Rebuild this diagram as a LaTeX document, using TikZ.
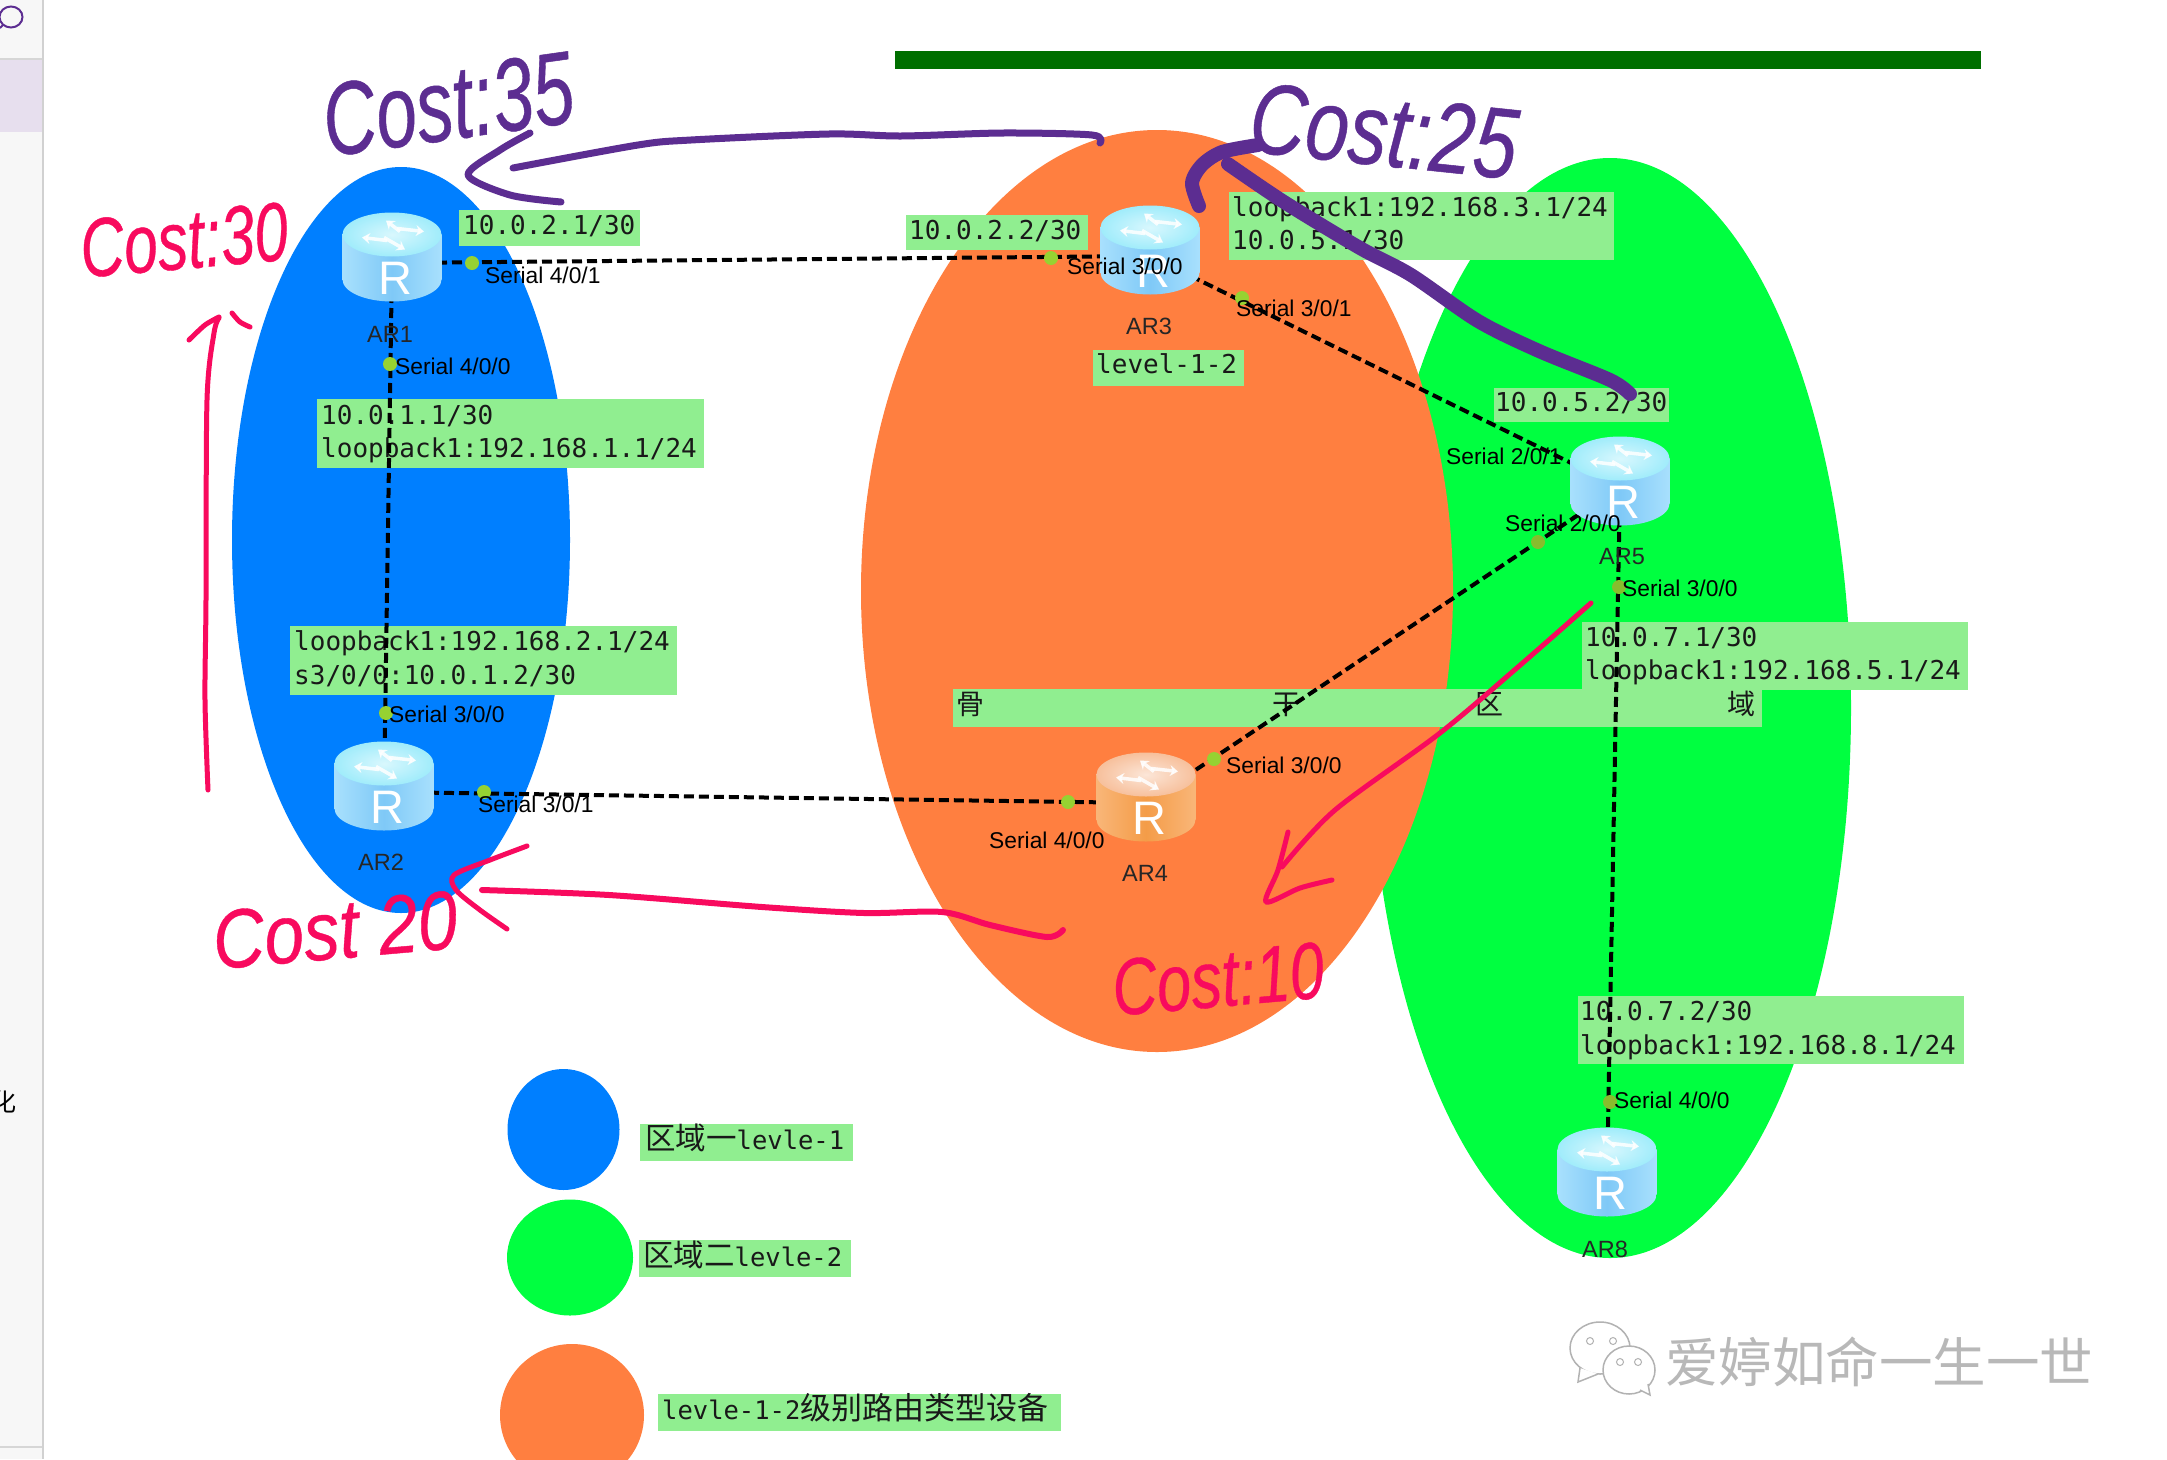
\documentclass[tikz,border=0pt]{standalone}
\usepackage{fontspec}
\usepackage{graphicx}
\usetikzlibrary{arrows.meta,shapes.geometric}
\newfontfamily\monof{DejaVu Sans Mono}
\newfontfamily\cjkf{Noto Sans CJK SC}
\newfontfamily\arialf{Liberation Sans}
\newfontfamily\handf[FakeBold=0.5]{Liberation Sans Italic}
\definecolor{bluearea}{HTML}{007FFF}
\definecolor{orangearea}{HTML}{FF7F40}
\definecolor{greenarea}{HTML}{00FF40}
\definecolor{lblgreen}{HTML}{90EE90}
\definecolor{penpurple}{HTML}{5C2D91}
\definecolor{penred}{HTML}{F80A5E}
\definecolor{dotgreen}{HTML}{96D232}
\definecolor{barsgreen}{HTML}{006F00}
\definecolor{rbedge}{HTML}{A8E0FD}
\definecolor{rbmid}{HTML}{7FC9F7}
\definecolor{rbtop}{HTML}{A0ECFB}
\definecolor{roedge}{HTML}{F9B678}
\definecolor{romid}{HTML}{F49C48}
\definecolor{rotop}{HTML}{F7C09C}
\tikzset{
  gbox/.style={fill=lblgreen,inner sep=0pt,outer sep=0pt},
  mono/.style={anchor=base west,inner sep=0pt,yshift=-1.5pt,font=\monof\fontsize{26}{26}\selectfont,text=black!90},
  mixed/.style={anchor=base west,inner sep=0pt,yshift=-1.5pt,font=\monof\fontsize{25.5}{26}\selectfont,text=black!90},
  port/.style={anchor=west,inner sep=0pt,yshift=-1pt,font=\arialf\fontsize{22.8}{23}\selectfont,text=black},
  rname/.style={anchor=center,inner sep=0pt,yshift=-1pt,font=\arialf\fontsize{23.5}{24}\selectfont,text=black!85},
  rcentre/.style={inner sep=0pt,minimum size=0pt,outer sep=0pt},
  pdot/.style={circle,fill=dotgreen,inner sep=0pt,minimum size=14pt},
  link/.style={draw=black,line width=4pt,dash pattern=on 10pt off 5pt},
  penP/.style={draw=penpurple,line cap=round,line join=round},
  penR/.style={draw=penred,line cap=round,line join=round},
  handP/.style={inner sep=0pt,text=penpurple},
  handR/.style={inner sep=0pt,text=penred},
  rtxt/.style={inner sep=0pt,text=white,font=\arialf\fontsize{47}{47}\selectfont},
  pics/rtr/.style n args={3}{code={
    \path[left color=#1,right color=#1,middle color=#2] (-49.5,-22.5) rectangle (49.5,22.5);
    \path[left color=#1,right color=#1,middle color=#2] (0,22.5) ellipse [x radius=49.5,y radius=22];
    \path[inner color=#3!40!white,outer color=#3] (0,-22.5) ellipse [x radius=49.5,y radius=22];
    \foreach \a/\b/\c/\d in {8/-25.5/-6/-36.5, 5/-28.5/32/-25.5, -8/-19.5/13/-7.5, -5/-16.5/-30/-19.5}{
      \draw[white,line width=3.5pt,opacity=.85,-{Stealth[length=8pt,width=11pt]}] (\a,\b) -- (\c,\d);
    }
    \node[rtxt] (-r) at (3,21) {R};
  }},
}
\begin{document}
\begin{tikzpicture}[x=1pt,y=-1pt]
\useasboundingbox (0,0) rectangle (2167,1459);
\fill[white] (0,0) rectangle (2167,1459);
% window side strip
\fill[black!3] (0,0) rectangle (42,1459);
\fill[black!18] (42,0) rectangle (44,1459);
\fill[black!16] (0,58) rectangle (42,60);
\fill[black!16] (0,1446) rectangle (42,1448);
\fill[white!85!penpurple] (0,60) rectangle (42,132);
\draw[penpurple,line width=2pt] (11,17) ellipse [x radius=11.5,y radius=10.5];
\draw[penpurple,line width=2pt] (3,25) -- (0,28);
\begin{scope}
\clip (0,1080) rectangle (42,1125);
\node[inner sep=0pt,font=\cjkf\fontsize{25}{25}\selectfont] (sidechar) at (4,1102) {化};
\end{scope}
% top bar
\fill[barsgreen] (895,51) rectangle (1981,69);
% areas
\fill[greenarea] (1610,708) ellipse [x radius=241,y radius=550];
\fill[orangearea] (1157,591) ellipse [x radius=296,y radius=461];
\fill[bluearea] (401,540) ellipse [x radius=169,y radius=373];
% legend
\fill[bluearea] (563.5,1129.5) ellipse [x radius=56,y radius=60.5];
\fill[greenarea] (570,1257.5) ellipse [x radius=63,y radius=58];
\fill[orangearea] (572,1415) ellipse [x radius=72,y radius=71];
% label boxes and texts
\node[gbox,minimum width=181pt,minimum height=36pt] (b1) at (549.5,228) {};
\node[mono] (t1) at (463,233) {10.0.2.1/30};
\node[gbox,minimum width=387pt,minimum height=69pt] (b2) at (510.5,433.5) {};
\node[mono] (t2a) at (321,423) {10.0.1.1/30};
\node[mono] (t2b) at (321,456) {loopback1:192.168.1.1/24};
\node[gbox,minimum width=182pt,minimum height=35pt] (b3) at (997,232.5) {};
\node[mono] (t3) at (909,238) {10.0.2.2/30};
\node[gbox,minimum width=385pt,minimum height=68.5pt] (b4) at (1421.5,225.75) {};
\node[mono] (t4a) at (1232,215) {loopback1:192.168.3.1/24};
\node[mono] (t4b) at (1232,248) {10.0.5.1/30};
\node[gbox,minimum width=151pt,minimum height=36pt] (b5) at (1168.5,368) {};
\node[mono] (t5) at (1096,372) {level-1-2};
\node[gbox,minimum width=175pt,minimum height=34pt] (b6) at (1581.5,405) {};
\node[mono] (t6) at (1495,410) {10.0.5.2/30};
\node[gbox,minimum width=387pt,minimum height=69pt] (b7) at (483.5,660.5) {};
\node[mono] (t7a) at (294,649) {loopback1:192.168.2.1/24};
\node[mono] (t7b) at (294,683) {s3/0/0:10.0.1.2/30};
\node[gbox,minimum width=809pt,minimum height=38pt] (b8) at (1357.5,708) {};
\node[gbox,minimum width=386pt,minimum height=68pt] (b9) at (1775,656) {};
\node[anchor=base west,inner sep=0pt,font=\cjkf\fontsize{28}{28}\selectfont,text=black!90] (t8) at (956,714)
  {骨\hspace{288pt}干\hspace{175pt}区\hspace{224pt}域};
\node[mono] (t9a) at (1585,645) {10.0.7.1/30};
\node[mono] (t9b) at (1585,678) {loopback1:192.168.5.1/24};
\node[gbox,minimum width=386pt,minimum height=68pt] (b10) at (1771,1030) {};
\node[mono] (t10a) at (1580,1019) {10.0.7.2/30};
\node[mono] (t10b) at (1580,1053) {loopback1:192.168.8.1/24};
\node[gbox,minimum width=213pt,minimum height=37pt] (b11) at (746.5,1142.5) {};
\node[mixed] (t11) at (645,1148) {{\cjkf\fontsize{30.5}{30}\selectfont 区域一}levle-1};
\node[gbox,minimum width=212pt,minimum height=37pt] (b12) at (745,1258.5) {};
\node[mixed] (t12) at (643,1265) {{\cjkf\fontsize{30.5}{30}\selectfont 区域二}levle-2};
\node[gbox,minimum width=403pt,minimum height=37pt] (b13) at (859.5,1412.5) {};
\node[mixed] (t13) at (662,1418) {levle-1-2{\cjkf\fontsize{31}{30}\selectfont 级别路由类型设备}};
% routers' centres
\node[rcentre] (ar1) at (392,263) {};
\node[rcentre] (ar2) at (384,792) {};
\node[rcentre] (ar3) at (1150,256) {};
\node[rcentre] (ar4) at (1146,803) {};
\node[rcentre] (ar5) at (1620,487) {};
\node[rcentre] (ar8) at (1607,1178) {};
% links
\draw[link] (ar1) -- (ar3);
\draw[link] (ar1) -- (ar2);
\draw[link] (ar2) -- (ar4);
\draw[link] (ar3) -- (ar5);
\draw[link] (ar4) -- (ar5);
\draw[link] (ar5) -- (ar8);
% port dots
\node[pdot] (d1) at (472,263) {};
\node[pdot] (d2) at (390,364) {};
\node[pdot] (d3) at (386,713) {};
\node[pdot] (d4) at (484,792) {};
\node[pdot] (d5) at (1051,258) {};
\node[pdot] (d6) at (1242,298) {};
\node[pdot] (d7) at (1068,802) {};
\node[pdot] (d8) at (1214,759) {};
\node[pdot,fill=dotgreen!90!black] (d9) at (1538,542) {};
\node[pdot,fill=dotgreen!90!black] (d10) at (1619,587) {};
\node[pdot,fill=dotgreen!90!black] (d11) at (1610,1102) {};
% routers
\pic (g1) at ([yshift=6pt]ar1) {rtr={rbedge}{rbmid}{rbtop}};
\pic (g2) at ([yshift=6pt]ar2) {rtr={rbedge}{rbmid}{rbtop}};
\pic (g3) at ([yshift=6pt]ar3) {rtr={rbedge}{rbmid}{rbtop}};
\pic (g4) at ([yshift=6pt]ar4) {rtr={roedge}{romid}{rotop}};
\pic (g5) at ([yshift=6pt]ar5) {rtr={rbedge}{rbmid}{rbtop}};
\pic (g8) at ([yshift=6pt]ar8) {rtr={rbedge}{rbmid}{rbtop}};
% router names
\node[rname] (n1) at (390,333) {AR1};
\node[rname] (n2) at (381,861) {AR2};
\node[rname] (n3) at (1149,325) {AR3};
\node[rname] (n4) at (1145,872) {AR4};
\node[rname] (n5) at (1622,556) {AR5};
\node[rname] (n8) at (1605,1248) {AR8};
% port labels
\node[port] (p1) at (485,274) {Serial 4/0/1};
\node[port] (p2) at (395,365) {Serial 4/0/0};
\node[port] (p3) at (389,713) {Serial 3/0/0};
\node[port] (p4) at (478,803) {Serial 3/0/1};
\node[port] (p5) at (1067,265) {Serial 3/0/0};
\node[port] (p6) at (1236,307) {Serial 3/0/1};
\node[port] (p7) at (1446,455) {Serial 2/0/1};
\node[port] (p8) at (1505,522) {Serial 2/0/0};
\node[port] (p9) at (1622,587) {Serial 3/0/0};
\node[port] (p10) at (1226,764) {Serial 3/0/0};
\node[port] (p11) at (989,839) {Serial 4/0/0};
\node[port] (p12) at (1614,1099) {Serial 4/0/0};
% watermark
\fill[white,draw=black!30,line width=1.5pt] (1600,1348) ellipse [x radius=30,y radius=26];
\draw[white,fill=white,draw=black!30,line width=1.5pt] (1580,1368) -- (1578,1382) -- (1598,1374);
\fill[white,draw=black!30,line width=1.5pt] (1629,1370) ellipse [x radius=26,y radius=24];
\draw[white,fill=white,draw=black!30,line width=1.5pt] (1640,1390) -- (1650,1395) -- (1648,1384);
\foreach \ex/\ey in {1590/1341,1613/1341,1620/1362,1638/1362}{
  \draw[black!30,line width=1pt] (\ex,\ey) circle [radius=3.5];
}
\node[anchor=base west,inner sep=0pt,font=\cjkf\fontsize{53.5}{54}\selectfont,text=black!28] (wm) at (1665,1382) {爱婷如命一生一世};
% handwriting: purple
\node[handP,rotate=8] (c35) at (448,104) {\resizebox{252pt}{72pt}{\handf Cost:35}};
\node[handP,rotate=-6] (c25) at (1384,131) {\resizebox{268pt}{70pt}{\handf Cost:25}};
\draw[penP,line width=7pt] plot[smooth] coordinates {(1100,143) (1092,135) (1003,133) (901,136) (829,134) (691,140) (638,145) (513,168)};
\draw[penP,line width=7pt] plot[smooth] coordinates {(530,133) (500,150) (468,175) (510,195) (561,202)};
\draw[penP,line width=14pt] plot[smooth] coordinates {(1630,394) (1610,380) (1539,351) (1478,321) (1411,275) (1360,248) (1284,202) (1228,164)};
\draw[penP,line width=14pt] plot[smooth] coordinates {(1258,145) (1222,152) (1202,165) (1192,183) (1199,206)};
% handwriting: red
\node[handR,rotate=5] (c30) at (184,240) {\resizebox{208pt}{58pt}{\handf Cost:30}};
\node[handR,rotate=5] (c20) at (335,930) {\resizebox{245pt}{58pt}{\handf Cost 20}};
\node[handR,rotate=5] (c10) at (1218,979) {\resizebox{212pt}{56pt}{\handf Cost:10}};
\draw[penR,line width=5pt] plot[smooth] coordinates {(208,790) (205,700) (206,600) (207,400) (214,333) (219,318)};
\draw[penR,line width=5pt] plot[smooth] coordinates {(189,340) (205,325) (219,317)};
\draw[penR,line width=5pt] plot[smooth] coordinates {(232,313) (240,322) (250,327)};
\draw[penR,line width=6pt] plot[smooth] coordinates {(1063,930) (1047,937) (990,925) (942,912) (864,913) (762,907) (609,895) (482,890)};
\draw[penR,line width=5pt] plot[smooth] coordinates {(527,846) (490,860) (454,875) (456,890) (480,910) (507,929)};
\draw[penR,line width=5pt] plot[smooth] coordinates {(1591,603) (1518,667) (1440,733) (1335,810) (1282,867)};
\draw[penR,line width=5pt] plot[smooth] coordinates {(1288,832) (1278,870) (1266,902) (1300,888) (1332,880)};
\end{tikzpicture}
\end{document}
